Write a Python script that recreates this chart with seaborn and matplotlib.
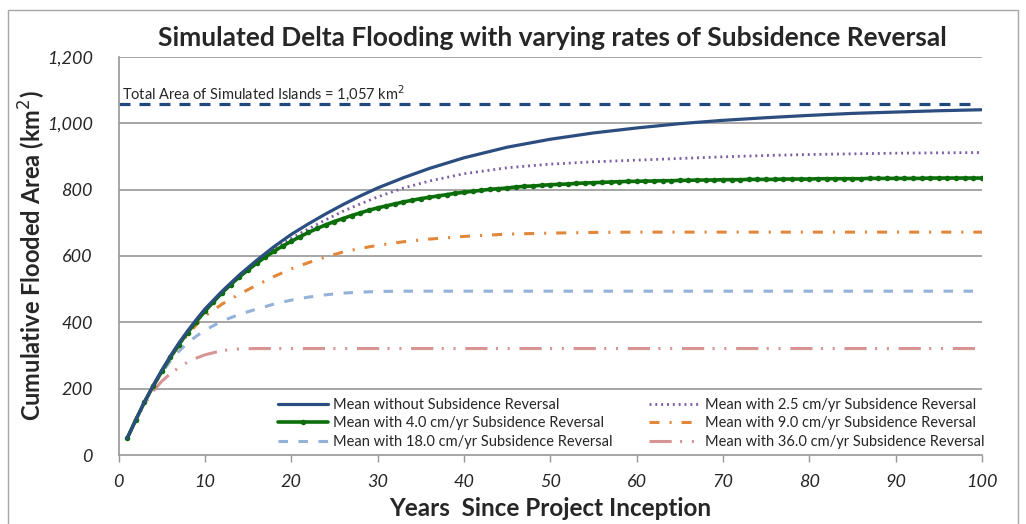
import matplotlib
matplotlib.use('Agg')
import matplotlib.pyplot as plt
import matplotlib.patches as mpatches
import seaborn as sns

# ── data ────────────────────────────────────────────────
years = [1, 2, 3, 4, 5, 6, 7, 8, 9, 10, 12, 14, 16, 18, 20, 22, 24, 26, 28, 30,
         33, 36, 40, 45, 50, 55, 60, 65, 70, 75, 80, 85, 90, 95, 100]

no_reversal = [50, 106, 160, 209, 255, 298, 338, 374, 408, 440, 494, 543, 587, 628,
               665, 697, 727, 755, 781, 805, 836, 864, 896, 928, 952, 971, 986,
               999, 1009, 1017, 1024, 1030, 1034, 1038, 1041]
rev_2_5 = [50, 106, 159, 208, 253, 296, 336, 373, 407, 438, 492, 540, 583, 620,
           653, 682, 709, 735, 757, 778, 805, 826, 848, 866, 877, 884, 889, 894,
           899, 903, 906, 908, 910, 911, 912]
rev_9_0 = [50, 105, 158, 207, 251, 292, 330, 362, 392, 419, 455, 485, 512, 538,
           561, 580, 597, 612, 623, 632, 643, 651, 659, 666, 669, 671, 672, 672,
           672, 672, 672, 672, 672, 672, 672]
rev_18_0 = [50, 105, 157, 205, 247, 283, 313, 338, 358, 376, 404, 424, 440, 455,
            467, 476, 483, 488, 491, 493, 494, 494, 494, 494, 494, 494, 494, 494,
            494, 494, 494, 494, 494, 494, 494]
rev_36_0 = [50, 104, 152, 192, 222, 245, 264, 280, 292, 302, 315, 320, 321, 321,
            321, 321, 321, 321, 321, 321, 321, 321, 321, 321, 321, 321, 321, 321,
            321, 321, 321, 321, 321, 321, 321]

# 4.0 cm/yr series is plotted with a marker at every year
years_annual = list(range(1, 101))
rev_4_0 = [50, 106, 159, 207, 252, 294, 333, 369, 402, 433,
           462, 489, 514, 537, 558, 578, 597, 614, 630, 644,
           658, 671, 683, 694, 704, 713, 722, 730, 738, 745,
           751, 757, 763, 768, 773, 777, 781, 785, 789, 792,
           795, 798, 801, 803, 805, 808, 810, 811, 813, 815,
           816, 817, 819, 820, 821, 822, 823, 824, 825, 825,
           826, 826, 827, 827, 828, 828, 829, 829, 829, 830,
           830, 830, 831, 831, 831, 831, 832, 832, 832, 832,
           833, 833, 833, 833, 833, 833, 834, 834, 834, 834,
           834, 834, 834, 835, 835, 835, 835, 835, 835, 835]

total_area = 1057
y_ticks = [0, 200, 400, 600, 800, 1000, 1200]
x_ticks = [0, 10, 20, 30, 40, 50, 60, 70, 80, 90, 100]

# ── style ───────────────────────────────────────────────
sns.set_style("white")
plt.rcParams['font.family'] = ['Lato', 'DejaVu Sans']
plt.rcParams['lines.scale_dashes'] = False

fig = plt.figure(figsize=(10.26, 5.24), dpi=100)
ax = fig.add_axes([118.5 / 1026, 1 - 455 / 524, (982 - 118.5) / 1026, (455 - 57) / 524])

# outer chart border (left, top, right)
fig.patches.append(mpatches.Rectangle((8 / 1026, -0.1), 1010 / 1026, 1.1 - 10 / 524,
                                      transform=fig.transFigure, fill=False,
                                      edgecolor='#a6a6a6', linewidth=1.0))

for y in y_ticks[1:]:
    ax.axhline(y, color='#979797', linewidth=1.2, zorder=0)

ax.axhline(total_area, xmin=0, xmax=0.99, color='#1f497d', linewidth=2.3,
           linestyle=(0, (7.9, 6.5)), zorder=2)
ax.text(0.4, total_area + 4, "Total Area of Simulated Islands = 1,057 km$^2$",
        fontsize=10.5, va='bottom', ha='left')

sns.lineplot(x=years, y=no_reversal, ax=ax, color='#2c4d7f', linewidth=2.3,
             label='Mean without Subsidence Reversal', zorder=5)
sns.lineplot(x=years_annual, y=rev_4_0, ax=ax, color='#0b6e0b', linewidth=2.6,
             marker='o', markersize=4, markeredgewidth=0,
             label='Mean with 4.0 cm/yr Subsidence Reversal', zorder=4)
sns.lineplot(x=years, y=rev_18_0, ax=ax, color='#94b1d8', linewidth=2.2,
             linestyle=(0, (6.8, 7.6)),
             label='Mean with 18.0 cm/yr Subsidence Reversal', zorder=3)
sns.lineplot(x=years, y=rev_2_5, ax=ax, color='#7b5ea6', linewidth=2.0,
             linestyle=(0, (1.4, 2.8)),
             label='Mean with 2.5 cm/yr Subsidence Reversal', zorder=3)
sns.lineplot(x=years, y=rev_9_0, ax=ax, color='#e2873a', linewidth=2.2,
             linestyle=(0, (7.2, 7.2, 1.5, 7.2)),
             label='Mean with 9.0 cm/yr Subsidence Reversal', zorder=3)
sns.lineplot(x=years, y=rev_36_0, ax=ax, color='#d69593', linewidth=2.2,
             linestyle=(0, (16, 6, 1.5, 7, 1.5, 7)),
             label='Mean with 36.0 cm/yr Subsidence Reversal', zorder=3)

ax.set_xlim(0, 100)
ax.set_ylim(0, 1200)
ax.set_xticks(x_ticks)
ax.set_yticks(y_ticks)
ax.set_xticklabels([str(v) for v in x_ticks], fontstyle='italic', fontsize=13)
ax.set_yticklabels([f"{v:,}" for v in y_ticks], fontstyle='italic', fontsize=13)
ax.tick_params(axis='x', bottom=True, length=5, width=1, color='#979797', pad=9)
ax.tick_params(axis='y', left=False, pad=15)

for side in ['top', 'right']:
    ax.spines[side].set_visible(False)
for side in ['left', 'bottom']:
    ax.spines[side].set_color('#979797')
    ax.spines[side].set_linewidth(1.2)

ax.set_xlabel("Years  Since Project Inception", fontsize=17.5, fontweight='bold', labelpad=5)
ax.set_ylabel("Cumulative Flooded Area (km$^2$)", fontsize=17, fontweight='bold', labelpad=-1)
fig.text(552 / 1026, 1 - 38 / 524,
         "Simulated Delta Flooding with varying rates of Subsidence Reversal",
         fontsize=19, fontweight='bold', ha='center', va='center')

ax.legend(ncol=2, loc='upper left', bbox_to_anchor=(278 / 1026, 1 - 398 / 524),
          bbox_transform=fig.transFigure, frameon=False, borderpad=0, borderaxespad=0,
          fontsize=10.5, handlelength=3.4, columnspacing=2.5, labelspacing=0.3,
          handletextpad=0.4)

plt.savefig("out.png", dpi=100)
plt.close()
